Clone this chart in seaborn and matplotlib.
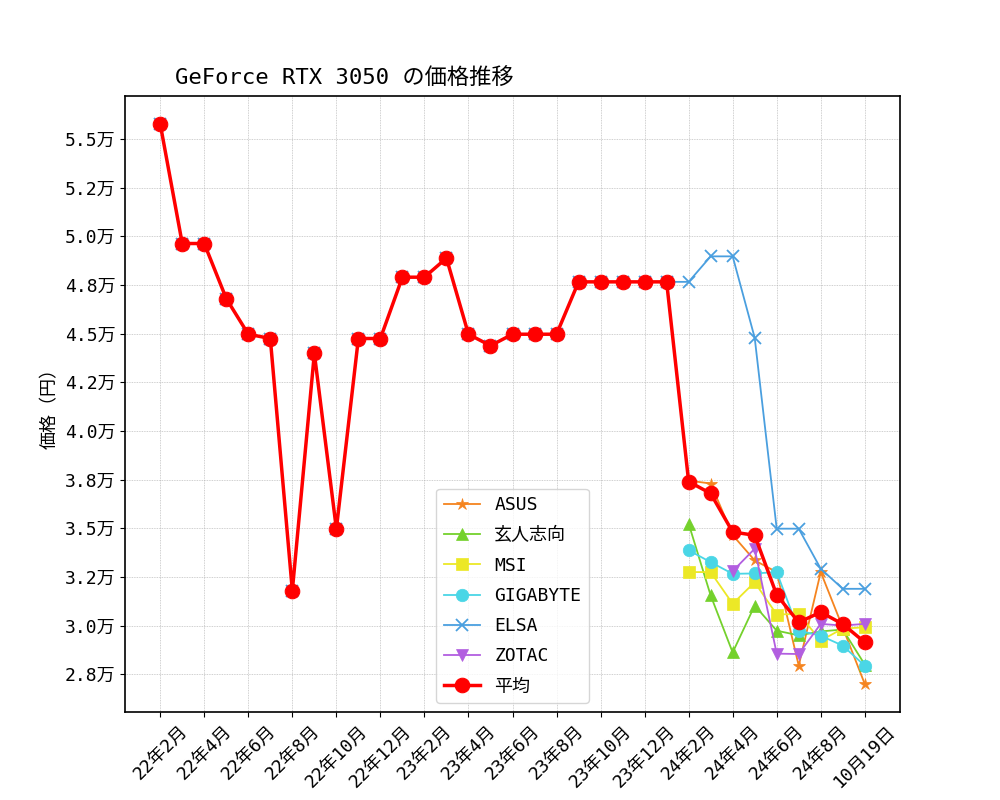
import numpy as np
import pandas as pd
import matplotlib
matplotlib.use("Agg")
import matplotlib.pyplot as plt
import seaborn as sns
from matplotlib.ticker import FuncFormatter

plt.rcParams['font.family'] = ['DejaVu Sans Mono', 'Noto Sans CJK JP']

title = "GeForce RTX 3050 の価格推移"
ylabel = "価格（円）"

periods = ["22年2月", "22年3月", "22年4月", "22年5月", "22年6月", "22年7月", "22年8月",
           "22年9月", "22年10月", "22年11月", "22年12月", "23年1月", "23年2月", "23年3月",
           "23年4月", "23年5月", "23年6月", "23年7月", "23年8月", "23年9月", "23年10月",
           "23年11月", "23年12月", "24年1月", "24年2月", "24年3月", "24年4月", "24年5月",
           "24年6月", "24年7月", "24年8月", "24年9月", "10月19日"]

N = None
avg = [55770, 49630, 49630, 46800, 44970, 44750, 31800, 43980, 34970, 44750, 44750,
       47900, 47900, 48880, 44970, 44380, 44970, 44970, 44970, 47660, 47660, 47660,
       47660, 47660, 37400, 36790, 34810, 34640, 31580, 30170, 30690, 30080, 29140]

asus = [N] * 24 + [37450, 37300, 34650, 33350, 32750, 27940, 32750, 29900, 27000]
kuroshikou = [N] * 24 + [35240, 31550, 28620, 31030, 29740, 29500, 29700, 29800, 28000]
msi = [N] * 24 + [32750, 32750, 31120, 32230, 30570, 30600, 29230, 29850, 29910]
gigabyte = [N] * 24 + [33870, 33260, 32660, 32680, 32750, 29740, 29480, 28970, 27940]
elsa = avg[:24] + [47660, 48970, 48970, 44790, 34980, 34980, 32920, 31890, 31890]
zotac = [N] * 26 + [32800, 33950, 28560, 28540, 30090, 30000, 30090]

series = [
    ("ASUS", asus, "#f5841f", "*"),
    ("玄人志向", kuroshikou, "#74d12c", "^"),
    ("MSI", msi, "#ece826", "s"),
    ("GIGABYTE", gigabyte, "#4ad6e6", "o"),
    ("ELSA", elsa, "#4a9fdf", "x"),
    ("ZOTAC", zotac, "#b25ee0", "v"),
]

fig, ax = plt.subplots(figsize=(10, 8), dpi=100)
x = np.arange(len(periods))

for name, vals, color, marker in series:
    df = pd.DataFrame({"x": x, "y": pd.array(vals, dtype="Float64")}).dropna()
    df["y"] = df["y"].astype(float)
    sns.lineplot(data=df, x="x", y="y", ax=ax, color=color, marker=marker,
                 markersize=9, linewidth=1.3, label=name,
                 markeredgecolor=color, markeredgewidth=1.3 if marker == "x" else 0.5)

dfa = pd.DataFrame({"x": x, "y": avg})
sns.lineplot(data=dfa, x="x", y="y", ax=ax, color="#ff0000", marker="o",
             markersize=10.5, linewidth=2.5, label="平均", markeredgecolor="#ff0000")

ax.set_xticks(x[::2])
ax.set_xticklabels(periods[::2], rotation=45, fontsize=13)
yt = np.arange(27500, 55001, 2500)
ax.set_yticks(yt)
ax.yaxis.set_major_formatter(FuncFormatter(lambda v, p: f"{v/10000:.1f}万"))
ax.tick_params(axis='y', labelsize=13)
ax.set_xlabel("")
ax.set_ylabel(ylabel, fontsize=13)
ax.grid(True, color="#b0b0b0", linestyle=(0, (1, 1)), linewidth=0.6, alpha=0.8)
ax.set_axisbelow(True)
for s in ax.spines.values():
    s.set_linewidth(1.2)

ax.set_title(title, loc="left", x=0.065, fontsize=16, pad=9)
ax.legend(loc="lower center", fontsize=13, labelspacing=0.68)

fig.savefig("out.png", dpi=100)
